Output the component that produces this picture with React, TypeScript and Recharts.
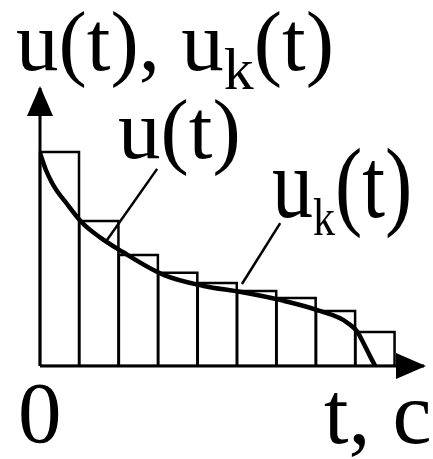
import React from "react";
import { ComposedChart, Bar, Line, XAxis, YAxis, ReferenceLine } from "recharts";

// step approximation u_k(t): value at the left edge of each interval
const steps = ["1", "2", "3", "4", "5", "6", "7", "8", "9"];
const stepValues = [7.7, 5.22, 3.99, 3.35, 2.99, 2.7, 2.45, 1.98, 1.22];

// continuous u(t), t measured in interval widths
const curveT = [0, 0.15, 0.3, 0.7, 1.05, 1.55, 2.1, 3.15, 4.15, 5.1, 6.1, 7.05, 7.8, 8.05, 8.2, 8.38, 8.5];
const curveU = [7.66, 7.05, 6.6, 5.8, 5.18, 4.6, 4.1, 3.27, 2.88, 2.66, 2.37, 2.0, 1.55, 1.22, 0.83, 0.32, 0];

// axis extents and leader lines for the labels
const tMax = 9.736;
const uMax = 10;
const pointerCurve = [[2.97, 7.09], [1.7, 4.53]];
const pointerSteps = [[6.09, 5.14], [5.12, 2.95]];

const barData = steps.map((k, i) => ({ k, u: stepValues[i] }));
const curveData = curveT.map((t, i) => ({ t, u: curveU[i] }));

const font = "'Liberation Serif', 'Times New Roman', serif";

export default function App() {
    return (
        <div style={{ position: "absolute", left: 0, top: 0, background: "#fff" }}>
            <ComposedChart
                width={433}
                height={459}
                data={barData}
                barCategoryGap={0}
                margin={{ top: 88, right: 9, bottom: 93, left: 40 }}
            >
                <defs>
                    <marker id="arrowHead" markerUnits="userSpaceOnUse" markerWidth={32} markerHeight={28}
                        refX={28} refY={13} orient="auto">
                        <path d="M0,0 L30,13 L0,26 z" fill="#000" />
                    </marker>
                </defs>
                <XAxis xAxisId="cat" dataKey="k" hide padding={{ left: 0, right: 29 }} />
                <XAxis xAxisId="t" dataKey="t" type="number" domain={[0, tMax]} allowDataOverflow hide />
                <YAxis type="number" domain={[0, uMax]} allowDataOverflow hide />
                <Bar xAxisId="cat" dataKey="u" fill="#fff" stroke="#000" strokeWidth={2.5} isAnimationActive={false} />
                <Line xAxisId="t" data={curveData} dataKey="u" type="monotone" stroke="#000" strokeWidth={4.5}
                    dot={false} activeDot={false} isAnimationActive={false} />
                <ReferenceLine xAxisId="t" ifOverflow="visible" stroke="#000" strokeWidth={3}
                    markerEnd="url(#arrowHead)" segment={[{ x: 0, y: 0 }, { x: tMax, y: 0 }]} />
                <ReferenceLine xAxisId="t" ifOverflow="visible" stroke="#000" strokeWidth={3}
                    markerEnd="url(#arrowHead)" segment={[{ x: 0, y: 0 }, { x: 0, y: uMax }]} />
                <ReferenceLine xAxisId="t" ifOverflow="visible" stroke="#000" strokeWidth={2.5}
                    segment={pointerCurve.map(([x, y]) => ({ x, y }))} />
                <ReferenceLine xAxisId="t" ifOverflow="visible" stroke="#000" strokeWidth={2.5}
                    segment={pointerSteps.map(([x, y]) => ({ x, y }))} />
                <text x={16} y={70} fontFamily={font} fontSize={85} fill="#000">
                    u(t), u<tspan fontSize={60} dy={19}>k</tspan><tspan dy={-19}>(t)</tspan>
                </text>
                <text x={118} y={158} fontFamily={font} fontSize={85} fill="#000">u(t)</text>
                <text transform="translate(272,217) scale(1,1.22)" fontFamily={font} fontSize={82} fill="#000">
                    u<tspan fontSize={44} dy={15}>k</tspan><tspan dy={-15}>(t)</tspan>
                </text>
                <text x={18} y={442} fontFamily={font} fontSize={87} fill="#000">0</text>
                <text x={324} y={443} fontFamily={font} fontSize={88} fill="#000">t, c</text>
            </ComposedChart>
        </div>
    );
}
